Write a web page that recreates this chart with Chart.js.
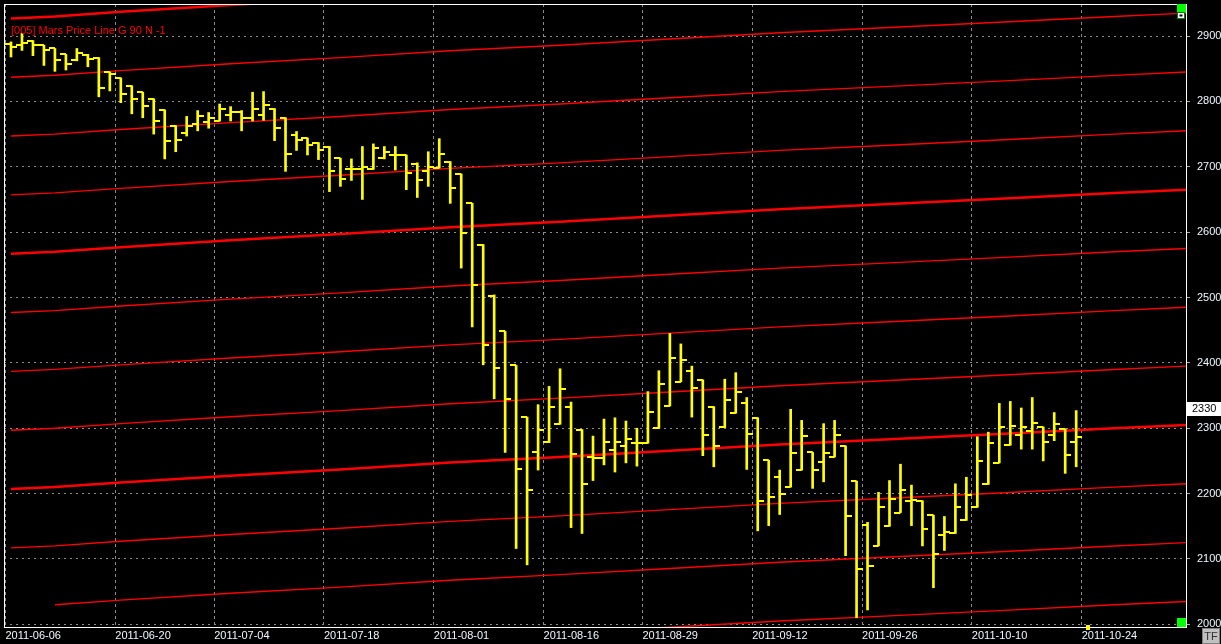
<!DOCTYPE html>
<html>
<head>
<meta charset="utf-8">
<script src="https://cdn.jsdelivr.net/npm/chart.js@4/dist/chart.umd.min.js"></script>
<style>
html,body{margin:0;padding:0;background:#000;overflow:hidden}
canvas{display:block}
</style>
</head>
<body>
<canvas id="c" width="1221" height="644"></canvas>
<script>
// ---- tick labels (x axis: bar index of each label) ----
const tickIndex  = [0, 10, 19, 29, 39, 49, 58, 68, 78, 88, 98];
const tickLabels = ['2011-06-06','2011-06-20','2011-07-04','2011-07-18','2011-08-01',
                    '2011-08-16','2011-08-29','2011-09-12','2011-09-26','2011-10-10','2011-10-24'];
const yTicks = [2000, 2100, 2200, 2300, 2400, 2500, 2600, 2700, 2800, 2900];

// ---- OHLC series (one entry per daily bar) ----
const opens  = [2888,2887,2892,2886,2881,2872,2864,2871,2867,2845,
                2836,2824,2814,2804,2787,2763,2752,2765,2768,2770,
                2779,2784,2775,2779,2789,2774,2748,2744,2737,2731,
                2713,2696,2696,2697,2713,2718,2718,2704,2693,2698,
                2708,2689,2644,2581,2503,2448,2396,2317,2263,2279,
                2307,2332,2298,2256,2255,2266,2273,2277,2277,2300,
                2334,2371,2387,2374,2332,2302,2323,2339,2316,2251,
                2225,2210,2236,2263,2249,2256,2273,2219,2152,2120,
                2151,2171,2189,2189,2167,2136,2140,2159,2179,2214,
                2247,2274,2289,2296,2302,2290,2299,2279];
const highs  = [2891,2904,2893,2886,2881,2872,2881,2872,2867,2845,
                2836,2824,2814,2804,2787,2763,2777,2786,2783,2796,
                2792,2786,2814,2815,2789,2775,2754,2744,2737,2731,
                2713,2712,2731,2735,2731,2731,2718,2706,2723,2743,
                2708,2689,2644,2581,2504,2448,2396,2317,2336,2364,
                2391,2340,2298,2288,2314,2316,2311,2300,2356,2388,
                2445,2429,2395,2374,2333,2375,2385,2347,2316,2251,
                2236,2329,2312,2263,2307,2312,2273,2219,2156,2202,
                2220,2245,2213,2189,2167,2165,2215,2225,2287,2294,
                2338,2341,2331,2347,2302,2324,2299,2327];
const lows   = [2868,2878,2870,2855,2846,2848,2862,2853,2807,2816,
                2798,2781,2775,2750,2712,2723,2747,2755,2759,2770,
                2770,2755,2770,2771,2740,2693,2725,2718,2711,2662,
                2670,2679,2650,2696,2712,2695,2665,2653,2670,2698,
                2644,2545,2455,2397,2345,2263,2116,2091,2236,2278,
                2306,2148,2139,2220,2244,2233,2247,2242,2277,2300,
                2334,2371,2317,2258,2241,2301,2323,2237,2143,2151,
                2168,2210,2236,2208,2218,2256,2105,2010,2022,2120,
                2150,2171,2151,2120,2056,2113,2139,2159,2179,2214,
                2247,2274,2268,2268,2250,2281,2231,2241];
const closes = [2883,2889,2886,2878,2863,2857,2874,2865,2821,2842,
                2812,2803,2793,2770,2739,2741,2762,2777,2775,2789,
                2784,2775,2789,2794,2759,2720,2741,2733,2725,2693,
                2682,2697,2700,2728,2722,2718,2691,2680,2700,2720,
                2668,2598,2519,2427,2392,2345,2237,2206,2297,2332,
                2360,2261,2214,2255,2279,2279,2283,2277,2325,2368,
                2407,2405,2361,2289,2273,2343,2355,2291,2189,2195,
                2199,2262,2288,2236,2262,2289,2165,2085,2090,2180,
                2191,2206,2190,2146,2108,2142,2180,2198,2250,2277,
                2302,2303,2302,2308,2279,2307,2259,2287];

// ---- Mars price line (base harmonic) read at several bars ----
const marsIdx  = [0, 4, 10, 20, 30, 40, 50, 60, 70, 80, 90, 100, 107];
const marsBase = [2207, 2210, 2217, 2227.5, 2237, 2247.5, 2256, 2265.5, 2275, 2283, 2291, 2299.5, 2305];
const harmonics = [-3, -2, -1, 0, 1, 2, 3, 4, 5, 6, 7, 8];
const harmonicStep = 90;
const harmonicFirstBar = { '-2': 4 };

const lastLabel = 2330;
const markerIndex = 98;
const legendText = '[005] Mars Price Line G 90 N -1';

const FONT = "'Liberation Sans', Arial, sans-serif";

function tickImage(left) {
  const c = document.createElement('canvas');
  c.width = 12; c.height = 2;
  const g = c.getContext('2d');
  g.fillStyle = '#ffff00';
  g.fillRect(left ? 0 : 6, 0, 6, 2);
  return c;
}

const datasets = [];
datasets.push({
  type: 'bar', label: 'HL', order: 0,
  data: lows.map((l, i) => ({ x: i, y: [l, highs[i]] })),
  backgroundColor: '#ffff00', borderWidth: 0, barThickness: 2, grouped: false
});
datasets.push({
  type: 'line', label: 'Open', order: 0, showLine: false,
  data: opens.map((v, i) => ({ x: i, y: v })),
  pointStyle: tickImage(true), pointRadius: 3, pointHoverRadius: 3
});
datasets.push({
  type: 'line', label: 'Close', order: 0, showLine: false,
  data: closes.map((v, i) => ({ x: i, y: v })),
  pointStyle: tickImage(false), pointRadius: 3, pointHoverRadius: 3
});
harmonics.forEach(k => {
  const first = harmonicFirstBar[String(k)] || 0;
  const pts = [];
  marsIdx.forEach((ix, j) => { if (ix >= first) pts.push({ x: ix, y: marsBase[j] + k * harmonicStep }); });
  const thick = (k % 4 === 0);
  datasets.push({
    type: 'line', label: 'Mars ' + k, order: 1,
    data: pts, borderColor: '#ff0000', borderWidth: thick ? 2.5 : 1.4,
    pointRadius: 0, tension: 0, fill: false
  });
});

const framePlugin = {
  id: 'frame',
  afterDraw(chart) {
    const { ctx, chartArea: a, scales: { x, y } } = chart;
    ctx.save();
    // frame
    ctx.strokeStyle = '#ffffff';
    ctx.lineWidth = 1;
    ctx.strokeRect(a.left + 0.5, a.top + 0.5, a.right - a.left, a.bottom - a.top - 1);
    // legend text
    ctx.fillStyle = '#ff0000';
    ctx.font = '11px ' + FONT;
    ctx.textBaseline = 'middle';
    ctx.textAlign = 'left';
    ctx.fillText(legendText, 11, 31);
    // green widgets
    ctx.fillStyle = '#00ff00';
    ctx.fillRect(a.right - 9, a.top, 9, 9);
    ctx.fillRect(a.right - 9, a.bottom - 10, 9, 9);
    ctx.fillStyle = '#008000';
    ctx.fillRect(a.right - 9, a.top + 8, 8, 7);
    ctx.fillStyle = '#ffffff';
    ctx.fillRect(a.right - 8, a.top + 9, 6, 5);
    ctx.fillStyle = '#000000';
    ctx.fillRect(a.right - 6.5, a.top + 10.5, 3, 2);
    // date marker
    const mx = Math.round(x.getPixelForValue(markerIndex));
    ctx.fillStyle = '#ffff00';
    ctx.fillRect(mx - 1, a.bottom - 3, 4, 5);
    // last value box
    const ly = y.getPixelForValue(lastLabel);
    ctx.fillStyle = '#ffffff';
    ctx.fillRect(a.right + 1, Math.round(ly) - 7, 40, 14);
    ctx.fillStyle = '#000000';
    ctx.font = '11px ' + FONT;
    ctx.fillText(String(lastLabel), a.right + 6, ly);
    // TF button
    ctx.fillStyle = '#c0c0c0';
    ctx.fillRect(1202, 628, 18, 16);
    ctx.strokeStyle = '#808080';
    ctx.strokeRect(1202.5, 628.5, 17, 15);
    ctx.fillStyle = '#303030';
    ctx.textAlign = 'center';
    ctx.fillText('TF', 1211, 636.5);
    ctx.restore();
  }
};

new Chart(document.getElementById('c'), {
  type: 'bar',
  data: { datasets },
  options: {
    responsive: false,
    animation: false,
    events: [],
    layout: { padding: { left: 2, top: 3, right: 0, bottom: 0 } },
    plugins: { legend: { display: false }, tooltip: { enabled: false }, title: { display: false } },
    scales: {
      x: {
        type: 'linear', position: 'bottom', min: -7 / 11, max: 107, offset: false,
        grid: { color: '#8c8c8c', lineWidth: 1, drawTicks: false, offset: false },
        border: { display: false, dash: [3, 3] },
        ticks: {
          autoSkip: false, maxRotation: 0, minRotation: 0, align: 'start', padding: 1,
          color: '#f0f8ff', font: { family: FONT, size: 11 },
          callback: (v, i) => tickLabels[i]
        },
        afterBuildTicks: s => { s.ticks = tickIndex.map(v => ({ value: v - 0.5 })); },
        afterFit: s => { s.height = 16; s.paddingLeft = 0; s.paddingRight = 0; }
      },
      y: {
        type: 'linear', position: 'right', min: 1994.4, max: 2949,
        grid: { color: '#8c8c8c', lineWidth: 1, drawTicks: true, tickLength: 4, tickColor: '#b0b0b0', tickBorderDash: [] },
        border: { display: false, dash: [2, 4] },
        ticks: { padding: 7, color: '#f0f8ff', font: { family: FONT, size: 11 }, callback: v => String(v) },
        afterBuildTicks: s => { s.ticks = yTicks.map(v => ({ value: v })); },
        afterFit: s => { s.width = 35; s.paddingTop = 0; s.paddingBottom = 0; }
      }
    }
  },
  plugins: [framePlugin]
});
</script>
</body>
</html>
